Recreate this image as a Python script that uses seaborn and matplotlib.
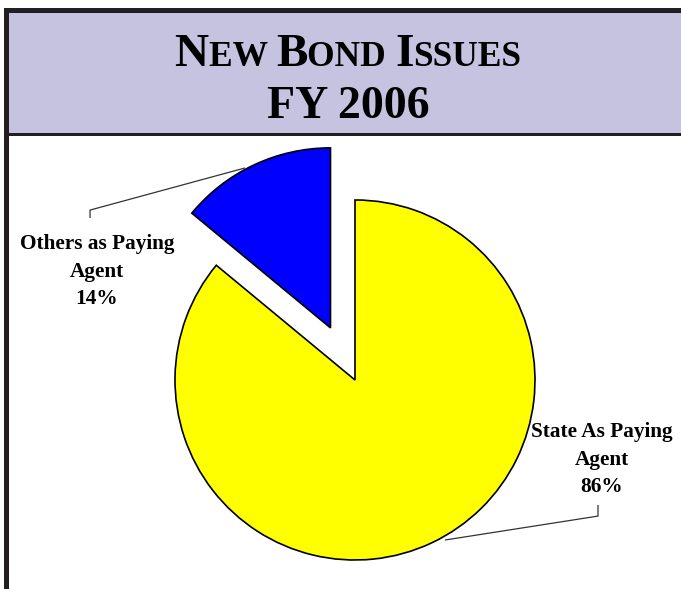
import matplotlib
matplotlib.use("Agg")
import matplotlib.pyplot as plt
import seaborn as sns
from matplotlib.patches import Rectangle
from matplotlib.offsetbox import TextArea, HPacker, AnnotationBbox

# Data
categories = ["Others as Paying\nAgent", "State As Paying\nAgent"]
shares = [14, 86]
slice_colors = ["#0000FF", "#FFFF00"]
explode = [0.32, 0.0]

sns.set_theme(style="white")
plt.rcParams["font.family"] = ["Liberation Serif", "DejaVu Serif"]

W, H = 681, 589
fig = plt.figure(figsize=(W / 100, H / 100), dpi=100)
fig.patch.set_facecolor("white")

# Background layer in pixel coordinates for the frame and title band
bg = fig.add_axes([0, 0, 1, 1])
bg.set_xlim(0, W)
bg.set_ylim(H, 0)
bg.axis("off")
dark = "#231F20"
bg.add_patch(Rectangle((9, 12), W, 122, facecolor="#C6C3E1", edgecolor="none"))
bg.add_patch(Rectangle((4, 8), W, 5, facecolor=dark, edgecolor="none"))
bg.add_patch(Rectangle((4, 8), 5, H, facecolor=dark, edgecolor="none"))
bg.add_patch(Rectangle((9, 133), W, 3, facecolor=dark, edgecolor="none"))


def small_caps(ax, parts, xy, big, small):
    """Place a small-caps line built from (text, is_capital) pieces."""
    boxes = []
    for txt, cap in parts:
        boxes.append(TextArea(txt, textprops=dict(fontsize=big if cap else small,
                                                  fontweight="bold", color="black",
                                                  family=["Liberation Serif"])))
    pack = HPacker(children=boxes, align="baseline", pad=0, sep=0)
    ab = AnnotationBbox(pack, xy, xycoords="data", frameon=False, box_alignment=(0.5, 0.0))
    ax.add_artist(ab)


small_caps(bg, [("N", True), ("EW ", False), ("B", True), ("OND ", False),
                ("I", True), ("SSUES", False)], (348, 76), 34, 25.5)
bg.text(348, 118, "FY 2006", ha="center", va="baseline", fontsize=33,
        fontweight="bold", color="black")

# Pie axes: centre (355, 380) px, radius 180 px
cx, cy, R = 355, 380, 180
lim = 1.6
half = lim * R
ax = fig.add_axes([(cx - half) / W, (H - cy - half) / H, 2 * half / W, 2 * half / H])
ax.pie(shares, colors=slice_colors, explode=explode, startangle=90, counterclock=True,
       radius=1.0, wedgeprops=dict(edgecolor="black", linewidth=1.2))
ax.set_xlim(-lim, lim)
ax.set_ylim(-lim, lim)
ax.set_aspect("equal")
ax.axis("off")

label_style = dict(ha="center", va="center", fontsize=15.3, fontweight="bold",
                   color="black", linespacing=1.5)
label_pos = [(-1.433, 0.600), (1.372, -0.444)]
leaders = [
    [(-1.472, 0.90), (-1.472, 0.944), (-0.611, 1.178)],
    [(1.35, -0.694), (1.35, -0.756), (0.50, -0.889)],
]
for name, share, pos, pts in zip(categories, shares, label_pos, leaders):
    ax.text(pos[0], pos[1], f"{name}\n{share}%", **label_style)
    xs, ys = zip(*pts)
    ax.plot(xs, ys, color="#333333", linewidth=0.9, solid_capstyle="butt")

fig.savefig("out.png", dpi=100, facecolor="white")
